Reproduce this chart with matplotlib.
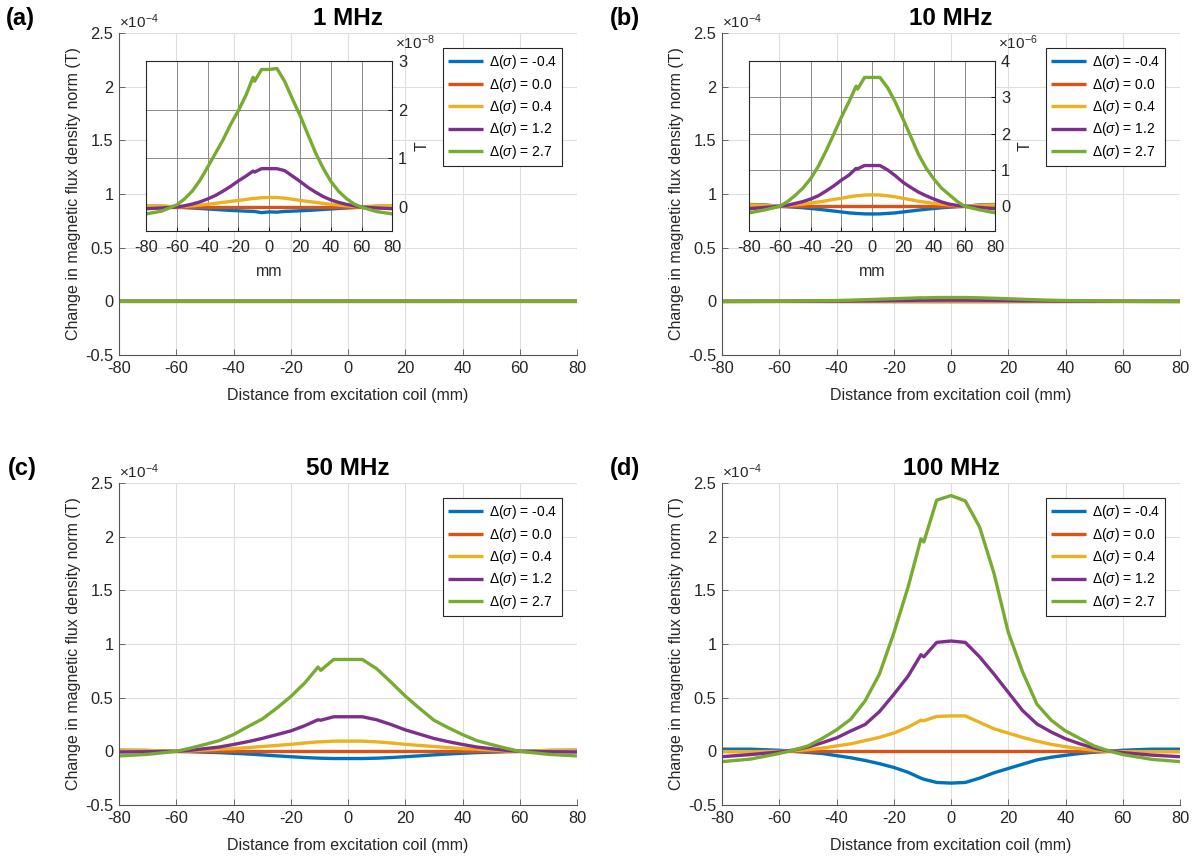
import matplotlib
matplotlib.use('Agg')
import matplotlib.pyplot as plt
from matplotlib.ticker import FuncFormatter

plt.rcParams['font.family'] = ['Liberation Sans', 'DejaVu Sans']
plt.rcParams['mathtext.fontset'] = 'custom'
plt.rcParams['mathtext.rm'] = 'Liberation Sans'
plt.rcParams['mathtext.it'] = 'Liberation Sans:italic'
plt.rcParams['axes.unicode_minus'] = False

# ---------------- data ----------------
x_mm = [-80, -70, -60, -55, -50, -45, -40, -35, -30, -25, -20, -15, -10.5, -9.5, -5,
        0, 5, 10, 15, 20, 25, 30, 35, 40, 45, 50, 55, 60, 70, 80]

series_labels = ['Δ($\\sigma$) = -0.4', 'Δ($\\sigma$) = 0.0', 'Δ($\\sigma$) = 0.4',
                 'Δ($\\sigma$) = 1.2', 'Δ($\\sigma$) = 2.7']
series_colors = ['#0072BD', '#D95319', '#EDB120', '#7E2F8E', '#77AC30']

zero_line = [0, 0, 0, 0, 0, 0, 0, 0, 0, 0, 0, 0, 0, 0, 0,
             0, 0, 0, 0, 0, 0, 0, 0, 0, 0, 0, 0, 0, 0, 0]

# 1 MHz (units of 1e-8 T)
mhz1_neg04 = [0.02, 0.02, 0.005, -0.005, -0.015, -0.025, -0.035, -0.045, -0.055, -0.065, -0.072, -0.08, -0.085, -0.086, -0.11,
              -0.095, -0.10, -0.085, -0.08, -0.072, -0.065, -0.055, -0.045, -0.035, -0.025, -0.015, -0.005, 0.005, 0.02, 0.02]
mhz1_04 = [0.03, 0.025, 0.01, 0.015, 0.03, 0.045, 0.06, 0.08, 0.10, 0.12, 0.14, 0.16, 0.18, 0.18, 0.195,
           0.20, 0.20, 0.185, 0.165, 0.14, 0.12, 0.10, 0.08, 0.06, 0.045, 0.03, 0.015, 0.01, 0.025, 0.03]
mhz1_12 = [-0.03, -0.015, 0.005, 0.03, 0.065, 0.11, 0.17, 0.24, 0.33, 0.43, 0.54, 0.64, 0.74, 0.72, 0.79,
           0.79, 0.79, 0.75, 0.64, 0.53, 0.41, 0.31, 0.22, 0.15, 0.10, 0.06, 0.03, 0.005, -0.015, -0.03]
mhz1_27 = [-0.136, -0.08, 0.05, 0.17, 0.33, 0.55, 0.82, 1.10, 1.38, 1.70, 1.98, 2.30, 2.66, 2.58, 2.82,
           2.82, 2.84, 2.58, 2.22, 1.88, 1.50, 1.12, 0.80, 0.53, 0.33, 0.18, 0.07, 0.0, -0.09, -0.136]

# 10 MHz (units of 1e-6 T)
mhz10_neg04 = [0.05, 0.04, 0.0, -0.01, -0.025, -0.04, -0.06, -0.08, -0.105, -0.13, -0.155, -0.18, -0.195, -0.197, -0.208,
               -0.21, -0.208, -0.195, -0.18, -0.155, -0.13, -0.105, -0.08, -0.06, -0.04, -0.025, -0.01, 0.0, 0.04, 0.05]
mhz10_04 = [0.04, 0.03, 0.0, 0.02, 0.04, 0.06, 0.09, 0.12, 0.15, 0.19, 0.22, 0.26, 0.29, 0.29, 0.31,
            0.315, 0.31, 0.29, 0.26, 0.22, 0.18, 0.14, 0.11, 0.08, 0.06, 0.04, 0.015, 0.0, 0.03, 0.04]
mhz10_12 = [-0.07, -0.03, 0.0, 0.03, 0.08, 0.13, 0.20, 0.29, 0.42, 0.56, 0.72, 0.86, 1.04, 1.03, 1.12,
            1.12, 1.12, 1.00, 0.84, 0.66, 0.52, 0.39, 0.29, 0.20, 0.12, 0.06, 0.025, 0.0, -0.03, -0.07]
mhz10_27 = [-0.18, -0.10, 0.0, 0.13, 0.30, 0.50, 0.76, 1.10, 1.52, 1.98, 2.45, 2.88, 3.30, 3.22, 3.54,
            3.54, 3.54, 3.26, 2.86, 2.40, 1.92, 1.43, 1.05, 0.75, 0.50, 0.32, 0.14, 0.0, -0.10, -0.18]

# 50 MHz (units of 1e-4 T)
mhz50_neg04 = [0.01, 0.008, 0.0, -0.003, -0.008, -0.012, -0.018, -0.025, -0.033, -0.042, -0.05, -0.058, -0.063, -0.064, -0.067,
               -0.067, -0.067, -0.064, -0.058, -0.05, -0.042, -0.033, -0.025, -0.018, -0.012, -0.008, -0.003, 0.0, 0.008, 0.01]
mhz50_04 = [0.01, 0.008, 0.0, 0.005, 0.012, 0.02, 0.025, 0.035, 0.045, 0.055, 0.065, 0.078, 0.088, 0.088, 0.095,
            0.095, 0.095, 0.088, 0.078, 0.065, 0.055, 0.045, 0.035, 0.025, 0.02, 0.012, 0.005, 0.0, 0.008, 0.01]
mhz50_12 = [-0.006, -0.004, 0.0, 0.01, 0.025, 0.04, 0.064, 0.09, 0.12, 0.155, 0.19, 0.24, 0.294, 0.29, 0.322,
            0.322, 0.322, 0.294, 0.25, 0.20, 0.16, 0.12, 0.09, 0.064, 0.04, 0.025, 0.01, 0.0, -0.004, -0.006]
mhz50_27 = [-0.043, -0.028, 0.0, 0.03, 0.064, 0.10, 0.156, 0.23, 0.30, 0.40, 0.51, 0.64, 0.785, 0.755, 0.856,
            0.856, 0.856, 0.77, 0.645, 0.515, 0.40, 0.29, 0.22, 0.156, 0.10, 0.064, 0.03, 0.0, -0.028, -0.043]

# 100 MHz (units of 1e-4 T)
mhz100_neg04 = [0.02, 0.02, 0.01, 0.0, -0.01, -0.02, -0.04, -0.06, -0.085, -0.115, -0.15, -0.195, -0.25, -0.26, -0.29,
                -0.296, -0.29, -0.25, -0.20, -0.16, -0.12, -0.08, -0.055, -0.037, -0.02, -0.008, 0.0, 0.01, 0.02, 0.02]
mhz100_04 = [-0.003, -0.003, 0.0, 0.005, 0.015, 0.03, 0.05, 0.07, 0.10, 0.13, 0.17, 0.225, 0.29, 0.285, 0.325,
             0.33, 0.33, 0.27, 0.21, 0.17, 0.13, 0.095, 0.065, 0.043, 0.025, 0.01, 0.0, -0.003, -0.003, -0.003]
mhz100_12 = [-0.05, -0.03, -0.006, 0.012, 0.04, 0.08, 0.125, 0.19, 0.25, 0.37, 0.53, 0.70, 0.90, 0.88, 1.015,
             1.028, 1.015, 0.88, 0.72, 0.55, 0.38, 0.255, 0.18, 0.117, 0.07, 0.03, 0.005, -0.012, -0.035, -0.05]
mhz100_27 = [-0.096, -0.072, -0.02, 0.012, 0.05, 0.12, 0.20, 0.30, 0.47, 0.72, 1.10, 1.53, 1.98, 1.95, 2.34,
             2.383, 2.333, 2.09, 1.66, 1.11, 0.74, 0.44, 0.29, 0.19, 0.12, 0.05, 0.005, -0.03, -0.074, -0.096]

titles = ['1 MHz', '10 MHz', '50 MHz', '100 MHz']
panel_letters = ['(a)', '(b)', '(c)', '(d)']

# ---------------- figure ----------------
fig = plt.figure(figsize=(11.94, 8.59), dpi=100)
W, H = 1194.0, 859.0

def fpos(left, top, w=458, h=322):
    return [left / W, (H - top - h) / H, w / W, h / H]

positions = [fpos(119, 33), fpos(722, 33), fpos(119, 483), fpos(722, 483)]
letter_xy = [(6, 18), (610, 18), (8, 468), (610, 468)]

TXT = '#262626'
fmt = FuncFormatter(lambda v, p: '%g' % v)
TICK_FS = 11.8
LAB_FS = 11.5


def draw_lines(ax, ys, lw=2.4):
    for y, c, lab in zip(ys, series_colors, series_labels):
        ax.plot(x_mm, y, color=c, lw=lw, label=lab, solid_capstyle='butt',
                solid_joinstyle='round')


def style_main(ax, title, letter, lxy):
    ax.set_xlim(-80, 80)
    ax.set_ylim(-0.5, 2.5)
    ax.set_xticks(range(-80, 81, 20))
    ax.set_yticks([-0.5, 0, 0.5, 1, 1.5, 2, 2.5])
    ax.yaxis.set_major_formatter(fmt)
    ax.grid(True, color='#dedede', lw=0.8)
    ax.set_axisbelow(True)
    for s in ['top', 'right']:
        ax.spines[s].set_visible(False)
    for s in ['left', 'bottom']:
        ax.spines[s].set_color('#555555')
        ax.spines[s].set_linewidth(0.8)
    ax.tick_params(direction='in', length=4, width=0.6, labelsize=TICK_FS,
                   colors='#555555', labelcolor=TXT, pad=4)
    ax.set_xlabel('Distance from excitation coil (mm)', fontsize=LAB_FS, color=TXT, labelpad=9)
    ax.set_ylabel('Change in magnetic flux density norm (T)', fontsize=LAB_FS, color=TXT, labelpad=3)
    ax.set_title(title, fontsize=17.5, fontweight='bold', pad=6)
    ax.text(0.0, 1.005, '×10$^{-4}$', transform=ax.transAxes, ha='left', va='bottom',
            fontsize=11, color=TXT)
    fig.text(lxy[0] / W, 1 - lxy[1] / H, letter, fontsize=17, fontweight='bold',
             ha='left', va='center')
    leg = ax.legend(loc='upper right', fontsize=10, frameon=True, fancybox=False,
                    framealpha=1, edgecolor=TXT, borderaxespad=1.1, handlelength=2.5,
                    handletextpad=0.4, labelspacing=0.32, borderpad=0.35)
    leg.get_frame().set_linewidth(0.8)


def add_inset(ax, ys, ymin, ymax, exp):
    ins = ax.inset_axes([0.059, 0.386, 0.538, 0.528])
    ins.set_facecolor('white')
    draw_lines(ins, ys)
    ins.set_xlim(-80, 80)
    ins.set_ylim(ymin, ymax)
    ins.set_xticks(range(-80, 81, 20))
    ins.set_yticks(range(0, int(ymax) + 1))
    ins.yaxis.tick_right()
    ins.yaxis.set_label_position('right')
    ins.grid(True, color='#8a8a8a', lw=0.7)
    ins.set_axisbelow(True)
    for s in ins.spines.values():
        s.set_color(TXT)
        s.set_linewidth(0.8)
    ins.tick_params(direction='in', length=3, width=0.6, labelsize=TICK_FS,
                    labelcolor=TXT, pad=4)
    ins.tick_params(axis='x', pad=7)
    ins.set_xlabel('mm', fontsize=LAB_FS, color=TXT, labelpad=6)
    ins.set_ylabel('T', fontsize=LAB_FS, color=TXT, labelpad=5)
    ins.text(1.01, 1.05, '×10$^{-%d}$' % exp, transform=ins.transAxes, ha='left',
             va='bottom', fontsize=11, color=TXT)
    return ins


data_1 = [mhz1_neg04, zero_line, mhz1_04, mhz1_12, mhz1_27]
data_10 = [mhz10_neg04, zero_line, mhz10_04, mhz10_12, mhz10_27]
data_50 = [mhz50_neg04, zero_line, mhz50_04, mhz50_12, mhz50_27]
data_100 = [mhz100_neg04, zero_line, mhz100_04, mhz100_12, mhz100_27]

# conversion of inset units into the main axis unit (1e-4 T)
main_1 = [[v * 1e-4 for v in s] for s in data_1]
main_10 = [[v * 1e-2 for v in s] for s in data_10]

main_data = [main_1, main_10, data_50, data_100]

axes = []
for i in range(4):
    ax = fig.add_axes(positions[i])
    draw_lines(ax, main_data[i])
    style_main(ax, titles[i], panel_letters[i], letter_xy[i])
    axes.append(ax)

add_inset(axes[0], data_1, -0.48, 3, 8)
add_inset(axes[1], data_10, -0.67, 4, 6)

fig.savefig('out.png', dpi=100)
